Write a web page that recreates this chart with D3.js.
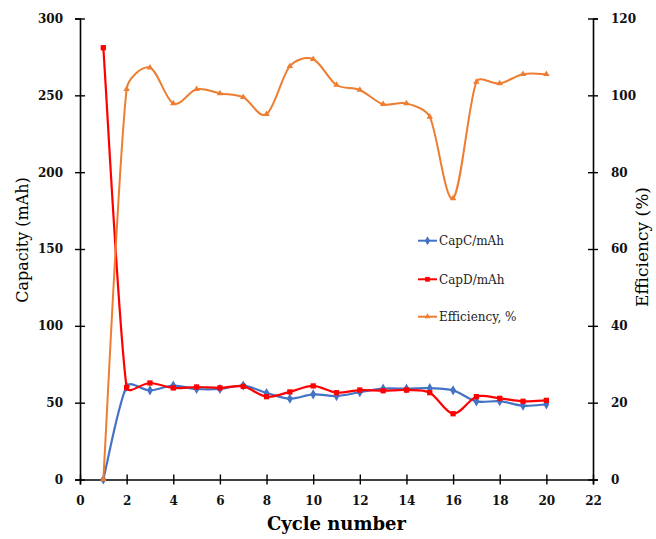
<!DOCTYPE html>
<html>
<head>
<meta charset="utf-8">
<script src="https://cdn.jsdelivr.net/npm/d3@7"></script>
<style>
  body { margin: 0; background: #fff; }
  svg { display: block; }
</style>
</head>
<body>
<svg id="chart"></svg>
<script>
// data
const cycles = [1, 2, 3, 4, 5, 6, 7, 8, 9, 10, 11, 12, 13, 14, 15, 16, 17, 18, 19, 20];
const capC = [0, 60.5, 58.0, 61.1, 58.9, 58.9, 61.1, 56.3, 52.6, 55.4, 54.3, 56.8, 59.1, 59.1, 59.4, 58.0, 50.8, 51.0, 48.0, 48.9];
const capD = [281, 59.8, 62.8, 59.6, 60.2, 59.6, 60.6, 53.9, 57.0, 60.9, 56.5, 58.2, 57.8, 58.2, 56.5, 42.8, 53.9, 52.8, 50.9, 51.5];
const efficiency = [0, 101.6, 107.2, 97.9, 101.6, 100.5, 99.5, 95.1, 107.6, 109.4, 102.7, 101.4, 97.7, 97.9, 94.4, 73.2, 103.5, 103.1, 105.5, 105.5];

const xTicks = d3.range(0, 23, 2);
const leftTicks = [0, 50, 100, 150, 200, 250, 300];
const rightTicks = [0, 20, 40, 60, 80, 100, 120];

const width = 656, height = 539;
const margin = { top: 18.5, right: 63, bottom: 59.5, left: 80 };

const svg = d3.select("#chart").attr("width", width).attr("height", height);

const x = d3.scaleLinear([0, 22], [margin.left, width - margin.right]);
const yL = d3.scaleLinear([0, 300], [height - margin.bottom, margin.top]);
const yR = d3.scaleLinear([0, 120], [height - margin.bottom, margin.top]);

const tickFont = "bold 12px 'DejaVu Serif'";

// axes, ticks cross the line on both sides
const gx = svg.append("g")
  .attr("transform", `translate(0,${height - margin.bottom})`)
  .call(d3.axisBottom(x).tickValues(xTicks).tickSizeOuter(0).tickSize(5).tickPadding(12));
gx.selectAll(".tick line").attr("y1", -5);

const gl = svg.append("g")
  .attr("transform", `translate(${margin.left},0)`)
  .call(d3.axisLeft(yL).tickValues(leftTicks).tickSizeOuter(0).tickSize(5).tickPadding(12));
gl.selectAll(".tick line").attr("x1", 5);

const gr = svg.append("g")
  .attr("transform", `translate(${width - margin.right},0)`)
  .call(d3.axisRight(yR).tickValues(rightTicks).tickSizeOuter(0).tickSize(5).tickPadding(13));
gr.selectAll(".tick line").attr("x1", -5);

for (const g of [gx, gl, gr]) {
  g.select(".domain").attr("stroke", "#000").attr("stroke-width", 1.6);
  g.selectAll(".tick line").attr("stroke", "#000").attr("stroke-width", 1.4);
  g.selectAll(".tick text").style("font", tickFont).attr("fill", "#111");
}

// axis titles
svg.append("text")
  .attr("transform", `translate(28,240) rotate(-90)`)
  .attr("text-anchor", "middle")
  .style("font", "16px 'DejaVu Serif'")
  .text("Capacity (mAh)");

svg.append("text")
  .attr("transform", `translate(648,247) rotate(-90)`)
  .attr("text-anchor", "middle")
  .style("font", "17px 'DejaVu Serif'")
  .text("Efficiency (%)");

svg.append("text")
  .attr("x", x(11))
  .attr("y", 530)
  .attr("text-anchor", "middle")
  .style("font", "bold 18px 'DejaVu Serif'")
  .text("Cycle number");

// spreadsheet-style smoothing: bezier arms are (next - prev) / 6,
// but never longer than a third of the segment they go into
function smoothPath(p) {
  const path = d3.path();
  const arm = (i, dir) => {
    const a = p[Math.max(i - 1, 0)], b = p[Math.min(i + 1, p.length - 1)];
    let dx = (b[0] - a[0]) / 6, dy = (b[1] - a[1]) / 6;
    const q = p[i + dir];
    const seg = Math.hypot(q[0] - p[i][0], q[1] - p[i][1]) / 3;
    const len = Math.hypot(dx, dy);
    if (len > seg) { dx *= seg / len; dy *= seg / len; }
    return [dx * dir, dy * dir];
  };
  path.moveTo(p[0][0], p[0][1]);
  for (let i = 0; i < p.length - 1; i++) {
    const a1 = arm(i, 1), a2 = arm(i + 1, -1);
    path.bezierCurveTo(
      p[i][0] + a1[0], p[i][1] + a1[1],
      p[i + 1][0] + a2[0], p[i + 1][1] + a2[1],
      p[i + 1][0], p[i + 1][1]
    );
  }
  return path.toString();
}

// series
const series = [
  { name: "CapC/mAh", values: capC, y: yL, color: "#4472C4", symbol: d3.symbolDiamond, size: 30, width: 2.2 },
  { name: "CapD/mAh", values: capD, y: yL, color: "#FF0000", symbol: d3.symbolSquare, size: 28, width: 2.2 },
  { name: "Efficiency, %", values: efficiency, y: yR, color: "#ED7D31", symbol: d3.symbolTriangle, size: 18, width: 2 }
];

for (const s of series) {
  const pts = cycles.map((c, i) => [x(c), s.y(s.values[i])]);

  svg.append("path")
    .attr("fill", "none")
    .attr("stroke", s.color)
    .attr("stroke-width", s.width)
    .attr("stroke-linejoin", "round")
    .attr("d", smoothPath(pts));

  svg.append("g")
    .selectAll("path")
    .data(pts)
    .join("path")
    .attr("transform", (d) => `translate(${d[0]},${d[1]})`)
    .attr("fill", s.color)
    .attr("d", d3.symbol(s.symbol, s.size));
}

// legend
const legendY = [240.7, 279.3, 316.7];
const legend = svg.append("g")
  .selectAll("g")
  .data(series)
  .join("g")
  .attr("transform", (d, i) => `translate(418,${legendY[i]})`);

legend.append("line")
  .attr("x1", 0).attr("x2", 19)
  .attr("stroke", (d) => d.color)
  .attr("stroke-width", 2);

legend.append("path")
  .attr("transform", "translate(9.5,0)")
  .attr("fill", (d) => d.color)
  .attr("d", (d) => d3.symbol(d.symbol, d.size * 0.8)());

legend.append("text")
  .attr("x", 21)
  .attr("dy", "0.35em")
  .style("font", "12px 'DejaVu Serif'")
  .attr("fill", "#222")
  .text((d) => d.name);
</script>
</body>
</html>
